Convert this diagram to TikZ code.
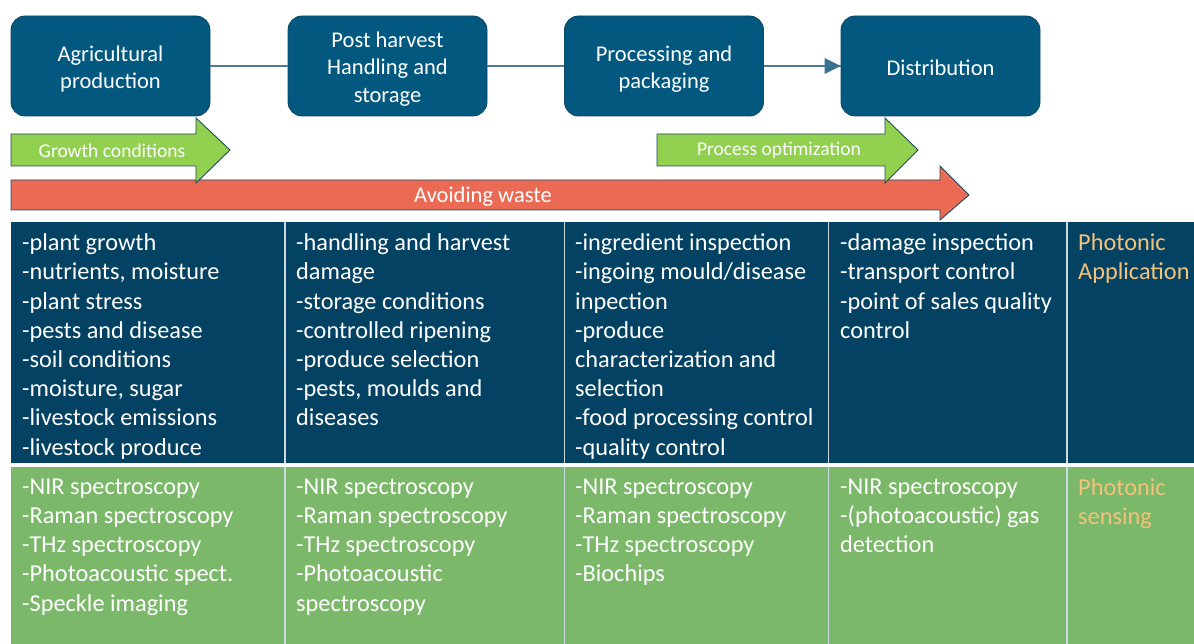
\documentclass[tikz,border=0pt]{standalone}
\usepackage{fontspec}
\setmainfont{Carlito}
\definecolor{boxblue}{HTML}{02587F}
\definecolor{boxedge}{HTML}{0B4766}
\definecolor{tabdark}{HTML}{044263}
\definecolor{tabgreen}{HTML}{7BB86A}
\definecolor{arrgreen}{HTML}{92D050}
\definecolor{arrred}{HTML}{EB6A53}
\definecolor{arredge}{HTML}{1F4B5E}
\definecolor{orangetxt}{HTML}{F5C27A}
\definecolor{sepline}{HTML}{C9D9E4}
\definecolor{linkcol}{HTML}{4D7D97}
\begin{document}
\begin{tikzpicture}[x=1pt,y=-1pt,
  stagebox/.style={draw=boxedge, line width=0.8pt, fill=boxblue, rounded corners=14pt,
    minimum width=199pt, minimum height=100pt, inner sep=0pt},
  stagetext/.style={text=white, align=center, inner sep=0pt, yshift=-3pt,
    font=\fontsize{22.5}{27.5}\selectfont},
  link/.style={draw=linkcol, line width=1.2pt},
  bigarrow/.style={draw=arredge, line width=0.9pt},
  arrlabel/.style={text=white, inner sep=0pt},
  cell/.style={anchor=north west, align=left, inner sep=0pt, text=white,
    font=\fontsize{24.3}{29.2}\selectfont, execute at begin node=\strut},
  photonic/.style={cell, text=orangetxt},
  sep/.style={draw=sepline, line width=1.6pt}
]
\useasboundingbox (0,0) rectangle (1194,644);

% ---------- table ----------
\begin{scope}
\clip (0,0) rectangle (1194,644);
\fill[tabdark] (11,222) rectangle (1194,463);
\fill[tabgreen] (11,467) rectangle (1194,644);
\draw[sep] (285,222) -- (285,644);
\draw[sep] (564.5,222) -- (564.5,644);
\draw[sep] (828.5,222) -- (828.5,644);
\draw[sep] (1067,222) -- (1067,644);
\draw[white, line width=4pt] (11,465) -- (1194,465);

\node[cell] (a1) at (22,233.6) {-plant growth\\-nutrients, moisture\\-plant stress\\-pests and disease\\-soil conditions\\-moisture, sugar\\-livestock emissions\\-livestock produce};
\node[cell] (a2) at (296,233.6) {-handling and harvest\\damage\\-storage conditions\\-controlled ripening\\-produce selection\\-pests, moulds and\\diseases};
\node[cell] (a3) at (575,233.6) {-ingredient inspection\\-ingoing mould/disease\\inpection\\-produce\\characterization and\\selection\\-food processing control\\-quality control};
\node[cell] (a4) at (840,233.6) {-damage inspection\\-transport control\\-point of sales quality\\control};
\node[photonic] (a5) at (1078,233.6) {Photonic\\Application};

\node[cell] (g1) at (22,478.6) {-NIR spectroscopy\\-Raman spectroscopy\\-THz spectroscopy\\-Photoacoustic spect.\\-Speckle imaging};
\node[cell] (g2) at (296,478.6) {-NIR spectroscopy\\-Raman spectroscopy\\-THz spectroscopy\\-Photoacoustic\\spectroscopy};
\node[cell] (g3) at (575,478.6) {-NIR spectroscopy\\-Raman spectroscopy\\-THz spectroscopy\\-Biochips};
\node[cell] (g4) at (840,478.6) {-NIR spectroscopy\\-(photoacoustic) gas\\detection};
\node[photonic] (g5) at (1078,478.6) {Photonic\\sensing};
\end{scope}

% ---------- stage boxes ----------
\node[stagebox] (s1) at (110.5,66) {};
\node[stagebox] (s2) at (387.5,66) {};
\node[stagebox] (s3) at (664,66) {};
\node[stagebox] (s4) at (940.5,66) {};
\node[stagetext] (l1) at (s1.center) {Agricultural\\production};
\node[stagetext] (l2) at (s2.center) {Post harvest\\Handling and\\storage};
\node[stagetext] (l3) at (s3.center) {Processing and\\packaging};
\node[stagetext, yshift=1pt] (l4) at (s4.center) {Distribution};

\draw[link] (s1.east) -- (s2.west);
\draw[link] (s2.east) -- (s3.west);
\draw[link] (s3.east) -- (s4.west);
\fill[linkcol!70!boxblue] (s4.west) -- ++(-16,-8) -- ++(0,16) -- cycle;

% ---------- big arrows ----------
\draw[bigarrow, fill=arrred] (11,180) -- (940,180) -- (940,166) -- (969,195) -- (940,220) -- (940,210) -- (11,210) -- cycle;
\node[arrlabel, font=\fontsize{22.5}{26}\selectfont] (t3) at (483,197) {Avoiding waste};

\draw[bigarrow, fill=arrgreen] (11,134) -- (196,134) -- (196,118) -- (230,150) -- (196,183) -- (196,166) -- (11,166) -- cycle;
\node[arrlabel, font=\fontsize{19.5}{23}\selectfont] (t1) at (112,150.5) {Growth conditions};

\draw[bigarrow, fill=arrgreen] (657,134) -- (885,134) -- (885,118) -- (918,150) -- (885,183) -- (885,166) -- (657,166) -- cycle;
\node[arrlabel, font=\fontsize{19.5}{23}\selectfont] (t2) at (779,150.5) {Process optimization};
\end{tikzpicture}
\end{document}
